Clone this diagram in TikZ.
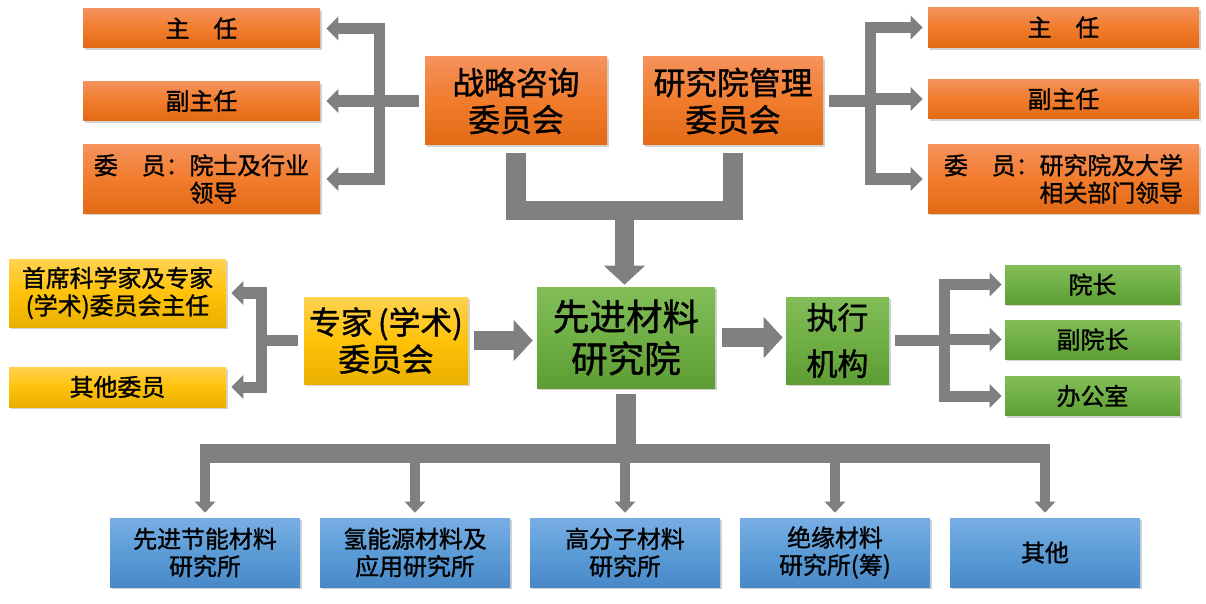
\documentclass[tikz,border=0pt]{standalone}
\usepackage{fontspec}
\setmainfont{Noto Sans CJK SC}[FakeBold=1.2]
\usetikzlibrary{arrows.meta,calc,shadows}

\newlength{\pxu}
\setlength{\pxu}{0.025cm}

\definecolor{orgtop}{RGB}{245,146,92}
\definecolor{orgmid}{RGB}{241,124,44}
\definecolor{orgbot}{RGB}{226,106,22}
\definecolor{yeltop}{RGB}{255,210,80}
\definecolor{yelmid}{RGB}{255,194,10}
\definecolor{yelbot}{RGB}{234,176,0}
\definecolor{grntop}{RGB}{130,190,88}
\definecolor{grnmid}{RGB}{112,174,70}
\definecolor{grnbot}{RGB}{94,157,52}
\definecolor{blutop}{RGB}{120,174,228}
\definecolor{blumid}{RGB}{92,156,214}
\definecolor{blubot}{RGB}{72,136,200}
\definecolor{conngray}{RGB}{128,128,128}

\tikzset{
	box/.style={inner sep=0pt, align=center, text=black,
		drop shadow={shadow xshift=0.05cm, shadow yshift=-0.06cm, opacity=0.35}},
	orgbox/.style={box, top color=orgtop, bottom color=orgbot, middle color=orgmid},
	yelbox/.style={box, top color=yeltop, bottom color=yelbot, middle color=yelmid},
	grnbox/.style={box, top color=grntop, bottom color=grnbot, middle color=grnmid},
	blubox/.style={box, top color=blutop, bottom color=blubot, middle color=blumid},
	smalltxt/.style={font=\fontsize{17}{19.5}\selectfont},
	bigtxt/.style={font=\fontsize{22.6}{26.3}\selectfont},
	hugetxt/.style={font=\fontsize{26}{30}\selectfont},
	exetxt/.style={font=\fontsize{22}{33}\selectfont},
	bigbar/.style={draw=conngray, line width=0.4875cm, line join=miter},
	bigarr/.style={bigbar, -{Triangle[width=1.0cm,length=0.475cm]}},
	brarr/.style={draw=conngray, line width=0.275cm, line join=miter,
		-{Triangle[width=0.575cm,length=0.3cm]}},
	botarr/.style={draw=conngray, line width=0.25cm,
		-{Triangle[width=0.5cm,length=0.275cm]}}
}

\begin{document}
\begin{tikzpicture}[x=0.025cm, y=-0.025cm]
			%%%%% START %%%%%
			\useasboundingbox (0,0) rectangle (1206,604);
			
			% committees on top
			\node[orgbox, bigtxt, minimum width=182\pxu, minimum height=88\pxu] (zl) at (516,101) {战略咨询\\委员会};
			\node[orgbox, bigtxt, minimum width=180\pxu, minimum height=88\pxu] (yg) at (733,101) {研究院管理\\委员会};
			
			\node[orgbox, smalltxt, minimum width=237\pxu, minimum height=39\pxu] (lz1) at (201.5,28.5) {主\hspace{1em}任};
			\node[orgbox, smalltxt, minimum width=237\pxu, minimum height=39\pxu] (lz2) at (201.5,101) {副主任};
			\node[orgbox, smalltxt, minimum width=237\pxu, minimum height=68\pxu] (lz3) at (201.5,179) {委\hspace{1em}员：院士及行业\\\hspace*{1em}领导};
			
			\node[orgbox, smalltxt, minimum width=271\pxu, minimum height=40\pxu] (rz1) at (1063.5,27.5) {主\hspace{1em}任};
			\node[orgbox, smalltxt, minimum width=271\pxu, minimum height=39\pxu] (rz2) at (1063.5,99) {副主任};
			\node[orgbox, smalltxt, minimum width=271\pxu, minimum height=68\pxu, align=right] (rz3) at (1063.5,179) {委\hspace{1em}员：研究院及大学\\相关部门领导};
			
			% middle row
			\node[grnbox, hugetxt, minimum width=178\pxu, minimum height=101\pxu] (xj) at (626,337.5) {先进材料\\研究院};
			\node[yelbox, bigtxt, minimum width=164\pxu, minimum height=87\pxu] (zj) at (386,340.5) {专家\,(学术)\\委员会};
			\node[grnbox, exetxt, minimum width=103\pxu, minimum height=87\pxu] (zx) at (837.5,340.5) {执行\\机构};
			
			\node[yelbox, smalltxt, minimum width=217\pxu, minimum height=68\pxu] (sx1) at (117.5,293) {首席科学家及专家\\(学术)委员会主任};
			\node[yelbox, smalltxt, minimum width=217\pxu, minimum height=40\pxu] (sx2) at (117.5,387) {其他委员};
			
			\node[grnbox, smalltxt, minimum width=175\pxu, minimum height=39\pxu] (g1) at (1092.5,284.5) {院长};
			\node[grnbox, smalltxt, minimum width=175\pxu, minimum height=39\pxu] (g2) at (1092.5,339.5) {副院长};
			\node[grnbox, smalltxt, minimum width=175\pxu, minimum height=39\pxu] (g3) at (1092.5,396) {办公室};
			
			% institutes
			\node[blubox, smalltxt, minimum width=190\pxu, minimum height=69\pxu] (b1) at (205,552.5) {先进节能材料\\研究所};
			\node[blubox, smalltxt, minimum width=190\pxu, minimum height=69\pxu] (b2) at (415,552.5) {氢能源材料及\\应用研究所};
			\node[blubox, smalltxt, minimum width=190\pxu, minimum height=69\pxu] (b3) at (625,552.5) {高分子材料\\研究所};
			\node[blubox, smalltxt, minimum width=190\pxu, minimum height=69\pxu] (b4) at (835,552.5) {绝缘材料\\研究所(筹)};
			\node[blubox, smalltxt, minimum width=190\pxu, minimum height=69\pxu] (b5) at (1045,552.5) {其他};
			
			% connectors
			\coordinate (lbr) at (379,101);
			\coordinate (rbr) at (870,101);
			\coordinate (ybr) at (261,340.5);
			\coordinate (gbr) at (944,340.5);
			\coordinate (topj) at ($(zl.south)!0.5!(yg.south)+(0,65)$);
			\coordinate (botj) at ($(xj.south)+(0,65)$);
			
			\foreach \n in {lz1,lz2,lz3}
				\draw[brarr, shorten <=0.15cm, shorten >=0.15cm] (zl.west) -- (lbr) |- (\n.east);
			\foreach \n in {rz1,rz2,rz3}
				\draw[brarr, shorten <=0.15cm, shorten >=0.125cm] (yg.east) -- (rbr) |- (\n.west);
			\foreach \n in {sx1,sx2}
				\draw[brarr, shorten <=0.15cm, shorten >=0.125cm] (zj.west) -- (ybr) |- (\n.east);
			\foreach \n in {g1,g2,g3}
				\draw[brarr, shorten <=0.15cm, shorten >=0.075cm] (zx.east) -- (gbr) |- (\n.west);
			
			\draw[bigbar, shorten <=0.2cm, shorten >=0.2cm] (zl.south) |- (topj) -| (yg.south);
			\draw[bigarr, shorten >=0.05cm] (topj) -- (topj |- xj.north);
			
			\draw[bigarr, shorten <=0.15cm, shorten >=0.1cm] (zj.east) -- (zj.east -| xj.west);
			\draw[bigarr, shorten <=0.175cm, shorten >=0.075cm] (xj.east) -- (xj.east -| zx.west);
			
			\draw[bigbar, shorten <=0.15cm] (xj.south) -- (botj);
			\draw[bigbar, shorten <=-0.125cm, shorten >=-0.125cm] (b1.north |- botj) -- (b5.north |- botj);
			\foreach \n in {b1,b2,b3,b4,b5}
				\draw[botarr, shorten >=0.125cm] (\n.north |- botj) -- (\n.north);
			
			%%%%% END %%%%%
\end{tikzpicture}
\end{document}
